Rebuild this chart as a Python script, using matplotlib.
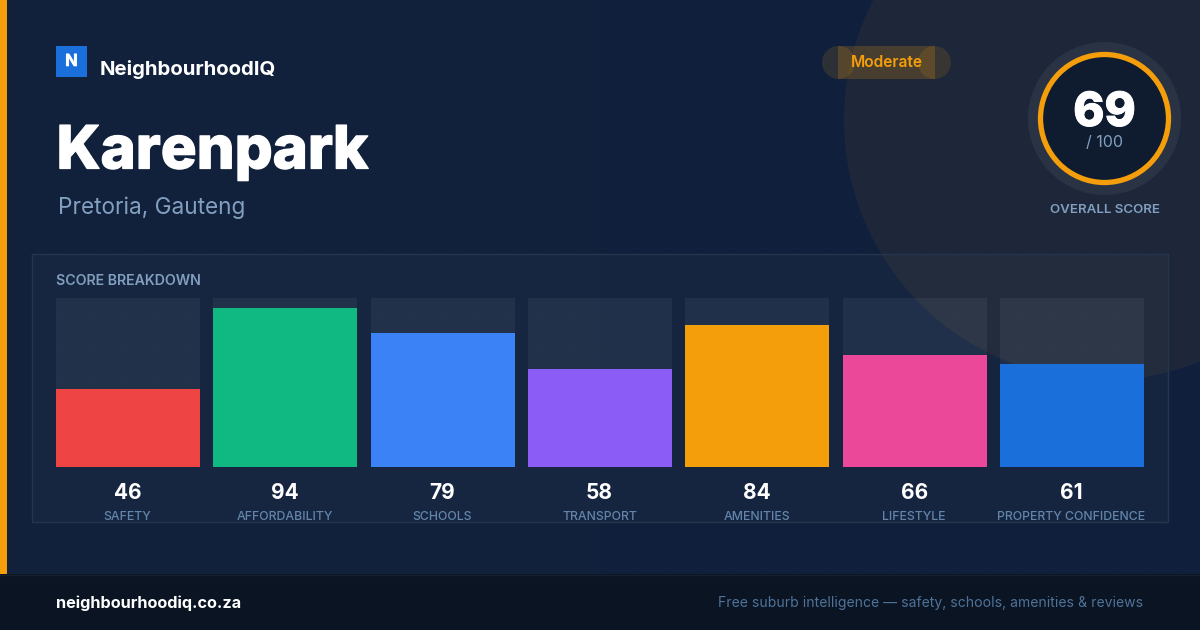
import numpy as np
import matplotlib.pyplot as plt
import matplotlib.patheffects as pe
from matplotlib.colors import LinearSegmentedColormap
from matplotlib.patches import Circle, Rectangle

plt.rcParams['font.family'] = ['Inter', 'DejaVu Sans']

categories = ["SAFETY", "AFFORDABILITY", "SCHOOLS", "TRANSPORT", "AMENITIES", "LIFESTYLE", "PROPERTY CONFIDENCE"]
scores = [46, 94, 79, 58, 84, 66, 61]
bar_colors = ["#ef4444", "#10b981", "#3b82f6", "#8b5cf6", "#f59e0b", "#ec4899", "#1a6fdb"]
overall = 69
suburb = "Karenpark"
region = "Pretoria, Gauteng"
badge = "Moderate"

ORANGE = "#f59e0b"
MUTED = "#829fbf"
LABEL = "#6485ab"
WIDTH, HEIGHT = 1200, 630


def px_axes(fig, left, top, right, bottom):
    return fig.add_axes([left/WIDTH, 1 - bottom/HEIGHT, (right-left)/WIDTH, (bottom-top)/HEIGHT])


def fatten(width, color="white"):
    # Inter has no real black weight here, thicken it with a stroke
    return [pe.withStroke(linewidth=width, foreground=color)]


fig = plt.figure(figsize=(12, 6.3), dpi=100)

# whole picture in pixel coords, y going down
bg = px_axes(fig, 0, 0, WIDTH, HEIGHT)
grad = np.linspace(0, 1, 256)[None, :]
cmap = LinearSegmentedColormap.from_list("bg", ["#12223c", "#11213c", "#10203c"])
bg.imshow(grad, extent=(0, WIDTH, HEIGHT, 0), cmap=cmap, aspect="auto", zorder=0)
bg.set_xlim(0, WIDTH)
bg.set_ylim(HEIGHT, 0)
bg.axis("off")

# dot pattern
xx, yy = np.meshgrid(np.arange(24, WIDTH, 32), np.arange(24, 574, 32))
bg.scatter(xx.ravel(), yy.ravel(), s=1.2, color="white", alpha=0.03, linewidths=0, zorder=1)

bg.add_patch(Circle((1104, 120), 260, fc=ORANGE, alpha=0.06, lw=0, zorder=1))

# score panel
bg.add_patch(Rectangle((32, 254), 1136, 268, fc="white", ec="none", alpha=0.025, zorder=2))
bg.add_patch(Rectangle((32, 254), 1136, 268, fc="none", ec="#26354e", lw=1, zorder=2))

# left strip and footer
bg.add_patch(Rectangle((0, 0), 7, 574, fc=ORANGE, lw=0, zorder=3))
bg.add_patch(Rectangle((0, 574), WIDTH, 56, fc="#0a1422", lw=0, zorder=3))
bg.plot([0, WIDTH], [574.5, 574.5], color="#16202f", lw=1, zorder=3)

# logo
bg.add_patch(Rectangle((56, 46), 31, 31, fc="#1a6fdb", lw=0, zorder=4))
bg.text(71.5, 66, "N", color="white", fontsize=12, fontweight="bold", ha="center", va="baseline", zorder=5,
        path_effects=fatten(0.4))
bg.text(100, 75, "NeighbourhoodIQ", color="white", fontsize=14.65, fontweight="bold", va="baseline", zorder=5)

bg.text(56.5, 168.5, suburb, color="white", fontsize=43, fontweight="heavy", va="baseline", zorder=5,
        path_effects=fatten(0.9))
bg.text(58, 214, region, color=MUTED, fontsize=16.25, va="baseline", zorder=5)

# badge, its pieces overlap like in the original
bg.add_patch(Circle((838.5, 62.5), 16.5, fc=ORANGE, alpha=0.13, lw=0, zorder=4))
bg.add_patch(Circle((934.5, 62.5), 16.5, fc=ORANGE, alpha=0.13, lw=0, zorder=4))
bg.add_patch(Rectangle((838, 46), 97, 33, fc=ORANGE, alpha=0.2, lw=0, zorder=4))
bg.text(886.5, 67, badge, color=ORANGE, fontsize=11.2, fontweight="semibold", ha="center", va="baseline", zorder=5)

# gauge
bg.add_patch(Circle((1104.5, 118.5), 76.5, fc="#2a3344", lw=0, zorder=4))
bg.add_patch(Circle((1104.5, 118.5), 64, fc="#0f1c2f", ec=ORANGE, lw=3.8, zorder=4))
bg.text(1104.5, 126, str(overall), color="white", fontsize=34, fontweight="heavy", ha="center", va="baseline", zorder=5,
        path_effects=fatten(0.7))
bg.text(1104.5, 147, "/ 100", color=MUTED, fontsize=11.5, ha="center", va="baseline", zorder=5)
bg.text(1104.5, 213, "OVERALL SCORE", color=MUTED, fontsize=9.6, fontweight="semibold", ha="center", va="baseline", zorder=5)

bg.text(56, 285, "SCORE BREAKDOWN", color=MUTED, fontsize=10.2, fontweight="semibold", va="baseline", zorder=5)

# bars
ax = px_axes(fig, 56, 298, 1144, 467)
ax.patch.set_alpha(0)
x = np.arange(len(scores))
bar_w = 144/157.33
ax.bar(x, [100]*len(scores), width=bar_w, color="white", alpha=0.055, lw=0)
ax.bar(x, scores, width=bar_w, color=bar_colors, lw=0)
ax.set_xlim(-bar_w/2, len(scores) - 1 + bar_w/2)
ax.set_ylim(0, 100)
ax.axis("off")

centers = bg.transData.inverted().transform(ax.transData.transform(np.column_stack([x, np.zeros_like(x)])))[:, 0]
for cx, score, cat in zip(centers, scores, categories):
    bg.text(cx-0.5, 499, str(score), color="white", fontsize=15, fontweight="bold", ha="center", va="baseline", zorder=5)
    bg.text(cx-0.5, 520, cat, color=LABEL, fontsize=8.85, fontweight="medium", ha="center", va="baseline", zorder=5)

# footer text
bg.text(56, 608, "neighbourhoodiq.co.za", color="white", fontsize=11.7, fontweight="bold", va="baseline", zorder=5)
bg.text(1143, 607, "Free suburb intelligence — safety, schools, amenities & reviews", color="#4f7299",
        fontsize=10.08, ha="right", va="baseline", zorder=5)

fig.savefig("out.png", dpi=100)
